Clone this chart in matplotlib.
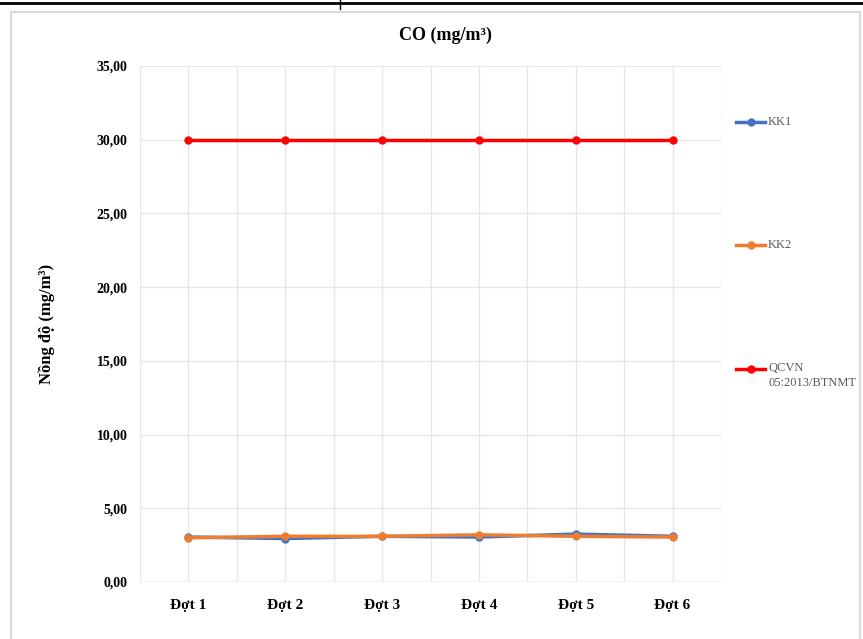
import matplotlib.pyplot as plt
from matplotlib.lines import Line2D
from matplotlib.patches import Rectangle
from matplotlib.ticker import FuncFormatter, MultipleLocator

# --- DATOS ---
dot = ["Đợt 1", "Đợt 2", "Đợt 3", "Đợt 4", "Đợt 5", "Đợt 6"]
kk1 = [3.05, 2.95, 3.10, 3.05, 3.25, 3.10]
kk2 = [3.00, 3.10, 3.10, 3.20, 3.10, 3.05]
qcvn = [30.0, 30.0, 30.0, 30.0, 30.0, 30.0]

plt.rcParams['font.family'] = ['Liberation Serif', 'DejaVu Serif']

W, H = 863, 639
fig = plt.figure(figsize=(W / 100, H / 100), dpi=100)

# marco del gráfico y línea superior de la página
fig.add_artist(Rectangle((11 / W, -0.01), (860 - 11) / W, 1 - 12 / H + 0.01,
                         transform=fig.transFigure, fill=False,
                         edgecolor='#d9d9d9', linewidth=1.5))
fig.add_artist(Line2D([0, 1], [1 - 3 / H, 1 - 3 / H], transform=fig.transFigure,
                      color='black', linewidth=2))
fig.add_artist(Line2D([340 / W, 340 / W], [1, 1 - 9 / H], transform=fig.transFigure,
                      color='black', linewidth=1))

ax = fig.add_axes([140 / W, 1 - 582 / H, (721 - 140) / W, (582 - 66) / H])

x = list(range(len(dot)))
ax.plot(x, kk1, color='#4472C4', linewidth=2.5, marker='o', markersize=5, label='KK1')
ax.plot(x, kk2, color='#ED7D31', linewidth=2.5, marker='o', markersize=5, label='KK2')
ax.plot(x, qcvn, color='#FF0000', linewidth=2.5, marker='o', markersize=5,
        label='QCVN\n05:2013/BTNMT')

ax.set_xlim(-0.5, len(dot) - 0.5)
ax.set_ylim(0, 35)
ax.yaxis.set_major_locator(MultipleLocator(5))
ax.yaxis.set_major_formatter(FuncFormatter(lambda v, p: f"{v:.2f}".replace('.', ',')))
ax.set_xticks(x)
ax.set_xticklabels(dot, fontsize=11, fontweight='bold')
ax.set_xticks([i - 0.5 for i in range(len(dot) + 1)], minor=True)
for t in ax.get_yticklabels():
    t.set_fontweight('bold')
    t.set_fontsize(10)
ax.tick_params(length=0, which='both')
ax.tick_params(axis='x', pad=12)
ax.tick_params(axis='y', pad=9)

ax.grid(True, which='both', axis='x', color='#e6e6e6', linewidth=1)
ax.grid(True, which='major', axis='y', color='#e6e6e6', linewidth=1)
ax.set_axisbelow(True)
for s in ax.spines.values():
    s.set_visible(False)
ax.axhline(0, color='#d9d9d9', linewidth=1, zorder=0)

ax.set_ylabel("Nồng độ (mg/m³)", fontsize=12, fontweight='bold', labelpad=30)
fig.text(445 / W, 1 - 35 / H, "CO (mg/m³)", ha='center', va='center',
         fontsize=13, fontweight='bold')

# leyenda a la derecha, entradas separadas verticalmente
handles, labels = ax.get_legend_handles_labels()
ys = [122, 245, 369]
for hnd, lab, yy in zip(handles, labels, ys):
    fy = 1 - yy / H
    fig.add_artist(Line2D([736 / W, 765 / W], [fy, fy], transform=fig.transFigure,
                          color=hnd.get_color(), linewidth=2.5))
    fig.add_artist(Line2D([750.5 / W], [fy], transform=fig.transFigure,
                          color=hnd.get_color(), marker='o', markersize=5))
    if '\n' in lab:
        fig.text(768 / W, fy + 7 / H, lab, ha='left', va='top',
                 fontsize=9, color='#595959', linespacing=1.3)
    else:
        fig.text(768 / W, fy, lab, ha='left', va='center',
                 fontsize=9, color='#595959')

fig.savefig('out.png', dpi=100)
